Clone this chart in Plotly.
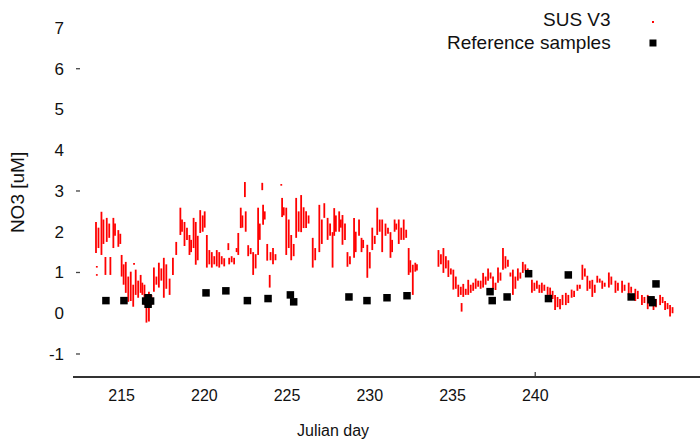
import plotly.graph_objects as go

# SUS V3 model series: day, low value, high value of each short vertical run
sus_day = [213.45, 213.5, 213.5, 213.6, 213.78, 213.9, 214.02, 214.1, 214.25, 214.32,
           214.5, 214.6, 214.8, 214.92, 215.0, 215.12, 215.25, 215.4, 215.55, 215.7, 215.75,
           215.85, 216.0, 216.15, 216.25, 216.38, 216.5, 216.65, 216.8, 216.95, 217.1,
           217.25, 217.4, 217.55, 217.7, 217.9, 218.1, 218.3, 218.55, 218.65, 218.8, 218.95,
           219.1, 219.2, 219.35, 219.48, 219.6, 219.75, 219.9, 220.02, 220.15, 220.3, 220.45,
           220.6, 220.75, 220.9, 221.05, 221.2, 221.45, 221.5, 221.65, 221.8, 221.95, 222.05,
           222.2, 222.3, 222.45, 222.5, 222.65, 222.8, 222.95, 223.1, 223.25, 223.35, 223.5,
           223.55, 223.65, 223.8, 223.95, 224.0, 224.15, 224.3, 224.65, 224.7, 224.8, 224.95,
           225.1, 225.25, 225.4, 225.55, 225.7, 225.85, 226.0, 226.15, 226.3, 226.55, 226.7,
           226.95, 227.1, 227.25, 227.45, 227.6, 227.75, 227.85, 227.95, 228.15, 228.25,
           228.35, 228.5, 228.65, 228.8, 229.05, 229.15, 229.35, 229.5, 229.6, 229.85, 230.0,
           230.15, 230.3, 230.45, 230.6, 230.75, 230.95, 231.1, 231.25, 231.35, 231.5, 231.6,
           231.75, 231.9, 232.05, 232.2, 232.35, 232.45, 232.6, 232.75, 232.85,
           234.15, 234.3, 234.45, 234.6, 234.75, 234.9, 235.05, 235.2, 235.35, 235.5, 235.55,
           235.65, 235.8, 235.95, 236.1, 236.25, 236.4, 236.55, 236.7, 236.85, 237.0, 237.15,
           237.3, 237.45, 237.6, 237.75, 237.9, 238.05, 238.2, 238.35, 238.5, 238.65, 238.8,
           238.95, 239.1, 239.25, 239.4, 239.55, 239.8, 239.95, 240.1, 240.25, 240.4, 240.55,
           240.75, 240.9, 241.05, 241.2, 241.35, 241.5, 241.65, 241.85, 242.0, 242.2, 242.35,
           242.55, 242.7, 242.85, 243.0, 243.15, 243.3, 243.45, 243.6, 243.75, 243.9, 244.05,
           244.2, 244.45, 244.6, 244.85, 245.0, 245.25, 245.4, 245.65, 245.8, 246.05, 246.2,
           246.45, 246.6, 246.8, 246.95, 247.15, 247.3, 247.55, 247.7, 247.85, 248.0, 248.15,
           248.3]
sus_lo = [1.48, 1.12, 0.92, 1.6, 1.43, 1.7, 0.94, 1.75, 1.85, 0.94,
          1.6, 1.9, 1.63, 1.7, 0.9, 0.70, 0.5, 0.28, 0.3, 0.16, 1.19,
          0.45, 0.38, 0.5, 0.45, 0.2, -0.23, -0.2, 0.2, 0.53, 0.7,
          0.63, 0.8, 0.38, 0.6, 0.45, 0.94, 1.43, 1.92, 2.0, 1.65, 1.8,
          1.43, 1.5, 1.6, 1.19, 1.3, 1.97, 2.0, 2.1, 1.12, 1.2, 1.12,
          1.2, 1.15, 1.12, 1.2, 1.15, 1.55, 1.2, 1.25, 1.2, 1.5, 1.43,
          2.09, 2.1, 2.85, 2.0, 1.4, 1.45, 0.94, 1.1, 1.43, 1.8, 3.02,
          2.17, 2.3, 1.29, 0.63, 1.3, 1.2, 1.3, 3.13, 2.36, 2.4, 1.43,
          1.6, 1.3, 1.4, 1.85, 2.0, 1.99, 2.09, 2.09, 2.2, 1.12, 1.3,
          1.5, 1.7, 2.34, 1.8, 1.9, 1.12, 1.9, 2.0, 2.0, 2.1,
          1.68, 1.8, 1.14, 1.2, 1.36, 1.5, 1.9, 1.5, 1.6, 0.87, 1.1,
          1.55, 1.7, 1.92, 2.0, 1.5, 1.9, 1.95, 1.36, 1.5, 2.0, 2.05,
          1.7, 1.8, 1.8, 1.85, 0.94, 1.0, 0.45, 1.02, 1.05,
          1.14, 1.2, 0.99, 1.1, 0.89, 0.95, 0.58, 0.6, 0.4, 0.45, 0.04,
          0.4, 0.45, 0.45, 0.5, 0.55, 0.6, 0.65, 0.6, 0.63, 0.7, 0.8,
          0.85, 0.6, 0.57, 0.75, 0.8, 1.07, 1.1, 1.14, 0.9, 0.45, 0.6,
          0.8, 0.85, 0.99, 1.05, 0.9, 0.5, 0.55, 0.6, 0.5, 0.5, 0.55,
          0.45, 0.28, 0.35, 0.08, 0.15, 0.1, 0.2, 0.2, 0.25, 0.38, 0.4,
          0.55, 0.6, 0.82, 0.9, 0.55, 0.6, 0.4, 0.5, 0.75, 0.75, 0.6,
          0.65, 0.63, 0.7, 0.5, 0.55, 0.5, 0.55, 0.45, 0.5, 0.3, 0.35,
          0.2, 0.25, 0.1, 0.2, 0.08, 0.15, 0.2, 0.25, 0.08, 0.1, -0.08,
          0.0]
sus_hi = [2.24, 1.16, 0.96, 2.1, 2.49, 2.3, 1.38, 2.34, 2.2, 1.38,
          2.34, 2.2, 2.04, 1.95, 1.43, 1.2, 1.26, 0.9, 1.02, 0.7, 1.23,
          1.07, 0.8, 0.94, 0.75, 0.70, 0.4, 0.53, 0.45, 1.12, 0.9,
          1.24, 1.1, 1.36, 1.2, 0.85, 1.36, 1.75, 2.59, 2.3, 2.24, 2.1,
          1.92, 1.8, 2.34, 2.24, 1.9, 2.53, 2.4, 2.5, 1.92, 1.55, 1.5,
          1.4, 1.55, 1.5, 1.4, 1.35, 1.72, 1.36, 1.4, 1.36, 1.6, 1.97,
          2.59, 2.4, 3.22, 2.5, 1.67, 1.6, 1.5, 1.45, 2.59, 2.2, 3.2,
          2.66, 2.5, 1.7, 0.94, 1.5, 1.6, 1.45, 3.17, 2.83, 2.6, 2.59,
          2.3, 1.92, 1.7, 2.83, 2.5, 2.9, 2.6, 2.5, 2.4, 1.85, 1.6,
          2.66, 2.3, 2.7, 2.34, 2.2, 1.99, 2.58, 2.4, 2.5, 2.3,
          2.41, 2.2, 1.5, 1.4, 2.34, 2.0, 2.3, 1.85, 1.8, 1.68, 1.5,
          2.1, 1.9, 2.59, 2.3, 2.3, 2.2, 2.1, 1.99, 1.8, 2.3, 2.2,
          2.3, 2.1, 2.3, 2.05, 1.6, 1.3, 1.19, 1.24, 1.2,
          1.55, 1.45, 1.6, 1.4, 1.3, 1.1, 1.07, 0.9, 0.7, 0.65, 0.25,
          0.72, 0.6, 0.82, 0.7, 0.75, 0.85, 0.8, 0.8, 0.99, 0.9, 1.1,
          1.0, 0.9, 0.75, 1.12, 1.0, 1.6, 1.4, 1.31, 1.0, 1.07, 0.9,
          1.1, 1.0, 1.26, 1.2, 1.1, 0.82, 0.75, 0.8, 0.7, 0.75, 0.7,
          0.65, 0.63, 0.55, 0.45, 0.4, 0.35, 0.45, 0.5, 0.45, 0.58, 0.55,
          0.7, 0.7, 1.19, 1.1, 0.92, 0.8, 0.82, 0.7, 0.92, 0.85, 0.8,
          0.75, 1.0, 0.9, 0.8, 0.75, 0.8, 0.7, 0.75, 0.65, 0.6, 0.55,
          0.45, 0.4, 0.45, 0.4, 0.4, 0.35, 0.45, 0.4, 0.3, 0.25, 0.2,
          0.15]

# Reference samples
ref_day = [214.05, 215.14, 216.45, 216.6, 216.75, 216.6, 220.1, 221.3, 222.6, 223.85,
           225.2, 225.4, 228.74, 229.83, 231.04, 232.25, 237.27, 237.4, 238.3, 239.6,
           240.8, 242.0, 245.8, 247.0, 247.1, 247.3]
ref_val = [0.31, 0.31, 0.30, 0.38, 0.30, 0.22, 0.50, 0.55, 0.31, 0.36,
           0.45, 0.28, 0.40, 0.31, 0.38, 0.43, 0.53, 0.31, 0.40, 0.97,
           0.36, 0.94, 0.40, 0.33, 0.26, 0.72]

x_ticks = [215, 220, 225, 230, 235, 240]
y_ticks = [-1, 0, 1, 2, 3, 4, 5, 6, 7]

FONT = "Liberation Sans, Arial, sans-serif"

seg_x, seg_y = [], []
for d, lo, hi in zip(sus_day, sus_lo, sus_hi):
    seg_x += [d, d, None]
    seg_y += [lo, hi, None]

fig = go.Figure()
fig.add_trace(go.Scatter(x=seg_x, y=seg_y, mode="lines",
                         line=dict(color="#ff0000", width=1.8),
                         name="SUS V3", showlegend=False, hoverinfo="skip"))
fig.add_trace(go.Scatter(x=ref_day, y=ref_val, mode="markers",
                         marker=dict(symbol="square", size=7.5, color="#000000", line=dict(width=0)),
                         name="Reference samples", showlegend=False))

shapes = []
# y tick marks
for v in [6, 3, 1, -1]:
    shapes.append(dict(type="line", xref="paper", xsizemode="pixel", xanchor=0, x0=3, x1=7,
                       yref="y", y0=v, y1=v, line=dict(color="#444", width=1.3)))
# small x tick at 240
shapes.append(dict(type="line", xref="x", x0=240, x1=240, yref="paper", ysizemode="pixel",
                   yanchor=0, y0=0, y1=4, line=dict(color="#444", width=1.3)))
# legend symbols
shapes.append(dict(type="rect", xref="paper", xsizemode="pixel", xanchor=0.925, x0=-1, x1=1,
                   yref="paper", ysizemode="pixel", yanchor=0.962, y0=-1, y1=1,
                   fillcolor="#ff0000", line=dict(width=0)))
shapes.append(dict(type="rect", xref="paper", xsizemode="pixel", xanchor=0.925, x0=-3.5, x1=3.5,
                   yref="paper", ysizemode="pixel", yanchor=0.9049, y0=-3.5, y1=3.5,
                   fillcolor="#000000", line=dict(width=0)))

annotations = [
    dict(text="SUS V3", xref="paper", yref="paper", x=0.8612, y=0.9674, xanchor="right",
         yanchor="middle", showarrow=False, font=dict(family=FONT, size=19, color="#111")),
    dict(text="Reference samples", xref="paper", yref="paper", x=0.8612, y=0.9049,
         xanchor="right", yanchor="middle", showarrow=False,
         font=dict(family=FONT, size=19, color="#111")),
    dict(text="Julian day", xref="paper", yref="paper", x=0.4147, y=-0.149, xanchor="center",
         yanchor="middle", showarrow=False, font=dict(family=FONT, size=16, color="#111")),
    dict(text="NO3 [uM]", xref="paper", yref="paper", x=-0.0893, y=0.497, textangle=-90,
         xanchor="center", yanchor="middle", showarrow=False,
         font=dict(family=FONT, size=19, color="#111")),
]

fig.update_layout(
    width=700, height=439,
    margin=dict(l=73, r=0, t=8, b=63),
    paper_bgcolor="white", plot_bgcolor="white",
    showlegend=False,
    shapes=shapes, annotations=annotations,
    font=dict(family=FONT, size=16, color="#111"),
    xaxis=dict(range=[212.06, 249.96], tickvals=x_ticks, ticktext=[str(t) for t in x_ticks],
               showgrid=False, zeroline=False, showline=True, linecolor="#333", linewidth=1.8,
               ticks="", ticklabelstandoff=4, tickfont=dict(size=16)),
    yaxis=dict(range=[-1.54, 7.49], tickvals=y_ticks, ticktext=[str(t) for t in y_ticks],
               showgrid=False, zeroline=False, showline=False, ticks="",
               ticklabelstandoff=8, tickfont=dict(size=17)),
)

fig.write_html("out.html", config={"displayModeBar": False},
               post_script="document.body.style.margin='0';document.body.style.overflow='hidden';")
